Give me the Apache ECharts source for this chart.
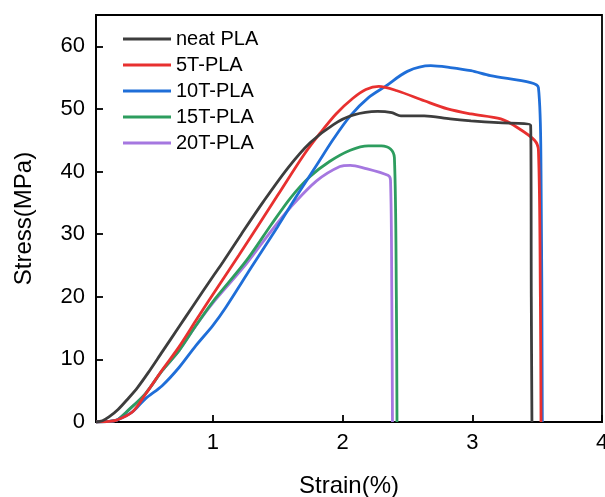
<!DOCTYPE html>
<html>
<head>
<meta charset="utf-8">
<script src="https://cdn.jsdelivr.net/npm/echarts@6/dist/echarts.min.js"></script>
<style>
  html, body { margin: 0; padding: 0; background: #fff; }
  #main { width: 605px; height: 497px; }
</style>
</head>
<body>
<div id="main"></div>
<script>
// legend names
const names = ['neat PLA', '5T-PLA', '10T-PLA', '15T-PLA', '20T-PLA'];
const colors = ['#3d3d3d', '#e8302f', '#1f6ed8', '#2d9d5e', '#a577e0'];

// [strain %, stress MPa]
const neatPLA = [[0.1,0],[0.15,0.2],[0.2,0.8],[0.27,2.0],[0.35,3.8],[0.42,5.5],[0.5,7.8],[0.61,11.2],[0.74,15.2],[0.84,18.3],[1.0,23.2],[1.08,25.6],[1.22,30.0],[1.39,35.2],[1.58,40.6],[1.75,44.6],[1.93,47.5],[2.08,49.0],[2.27,49.6],[2.38,49.4],[2.45,48.9],[2.63,48.9],[2.83,48.4],[2.99,48.1],[3.2,47.8],[3.45,47.4],[3.455,20],[3.46,0]];
const t5PLA = [[0.1,0],[0.2,0.1],[0.26,0.3],[0.38,1.6],[0.48,4.4],[0.61,8.3],[0.74,12.0],[0.87,16.2],[0.97,19.4],[1.2,26.6],[1.5,36.2],[1.7,42.6],[1.83,46.2],[1.95,49.2],[2.08,51.7],[2.18,53.1],[2.28,53.6],[2.42,52.9],[2.63,51.3],[2.81,50],[2.99,49.2],[3.22,48.4],[3.35,47],[3.48,45],[3.51,43.4],[3.525,20],[3.53,0]];
const t10PLA = [[0.1,0],[0.2,0.1],[0.26,0.3],[0.38,1.6],[0.48,3.7],[0.61,5.8],[0.74,8.7],[0.87,12.2],[1.0,15.4],[1.1,18.3],[1.3,24.8],[1.5,31.2],[1.65,36.2],[1.8,41],[1.93,45.2],[2.06,48.9],[2.2,51.8],[2.33,53.6],[2.5,56.0],[2.68,56.9],[2.83,56.6],[2.99,56.1],[3.14,55.3],[3.45,54.2],[3.51,53.4],[3.53,40],[3.54,0]];
const t15PLA = [[0.1,0],[0.2,0.1],[0.26,0.3],[0.35,1.9],[0.48,4.5],[0.61,8.2],[0.74,11.4],[0.87,15.4],[1.0,19.2],[1.26,25.8],[1.45,31.5],[1.6,35.8],[1.75,39.2],[1.9,41.6],[2.06,43.4],[2.2,44.1],[2.3,44.1],[2.37,43.6],[2.4,42.2],[2.415,20],[2.42,0]];
const t20PLA = [[0.1,0],[0.2,0.1],[0.26,0.3],[0.35,1.9],[0.48,4.5],[0.61,8.2],[0.74,11.4],[0.87,15.4],[1.0,19.0],[1.26,25.3],[1.45,30.5],[1.6,34.3],[1.8,38.5],[1.98,40.8],[2.06,41],[2.16,40.6],[2.35,39.4],[2.37,38.6],[2.38,20],[2.385,0]];

const xTicks = [1, 2, 3, 4];
const yTicks = [0, 10, 20, 30, 40, 50, 60];

const allData = [neatPLA, t5PLA, t10PLA, t15PLA, t20PLA];
const font = "'Liberation Sans', Arial, sans-serif";

const myChart = echarts.init(document.getElementById('main'));
let option = {
  backgroundColor: '#fff',
  animation: false,
  grid: {
    left: 96, right: 3, top: 15, bottom: 75,
    outerBoundsMode: 'none',
    show: true, borderColor: '#000', borderWidth: 1.8
  },
  legend: {
    orient: 'vertical',
    left: 118, top: 24,
    itemWidth: 48, itemHeight: 3, itemGap: 6,
    icon: 'rect',
    data: names,
    textStyle: { fontSize: 20, color: '#000', fontFamily: font }
  },
  xAxis: {
    type: 'value',
    min: 0.1, max: 4,
    name: 'Strain(%)',
    nameLocation: 'middle',
    nameGap: 52,
    nameTextStyle: { fontSize: 24, color: '#000', fontFamily: font },
    axisLine: { lineStyle: { color: '#000', width: 1.8 } },
    axisTick: { inside: true, length: 7, lineStyle: { color: '#000', width: 1.8 }, customValues: xTicks },
    axisLabel: { fontSize: 22, color: '#000', fontFamily: font, margin: 10, customValues: xTicks },
    splitLine: { show: false }
  },
  yAxis: {
    type: 'value',
    min: 0, max: 65,
    name: 'Stress(MPa)',
    nameLocation: 'middle',
    nameGap: 60,
    nameTextStyle: { fontSize: 24, color: '#000', fontFamily: font },
    axisLine: { lineStyle: { color: '#000', width: 1.8 } },
    axisTick: { inside: true, length: 7, lineStyle: { color: '#000', width: 1.8 }, customValues: yTicks },
    axisLabel: { fontSize: 22, color: '#000', fontFamily: font, margin: 11, customValues: yTicks },
    splitLine: { show: false }
  },
  series: names.map(function (n, i) {
    return {
      name: n,
      type: 'line',
      data: allData[i],
      symbol: 'none',
      smooth: 0.3,
      color: colors[i],
      lineStyle: { width: 2.8, color: colors[i] },
      z: 10 - i
    };
  })
};
myChart.setOption(option, true);
</script>
</body>
</html>
